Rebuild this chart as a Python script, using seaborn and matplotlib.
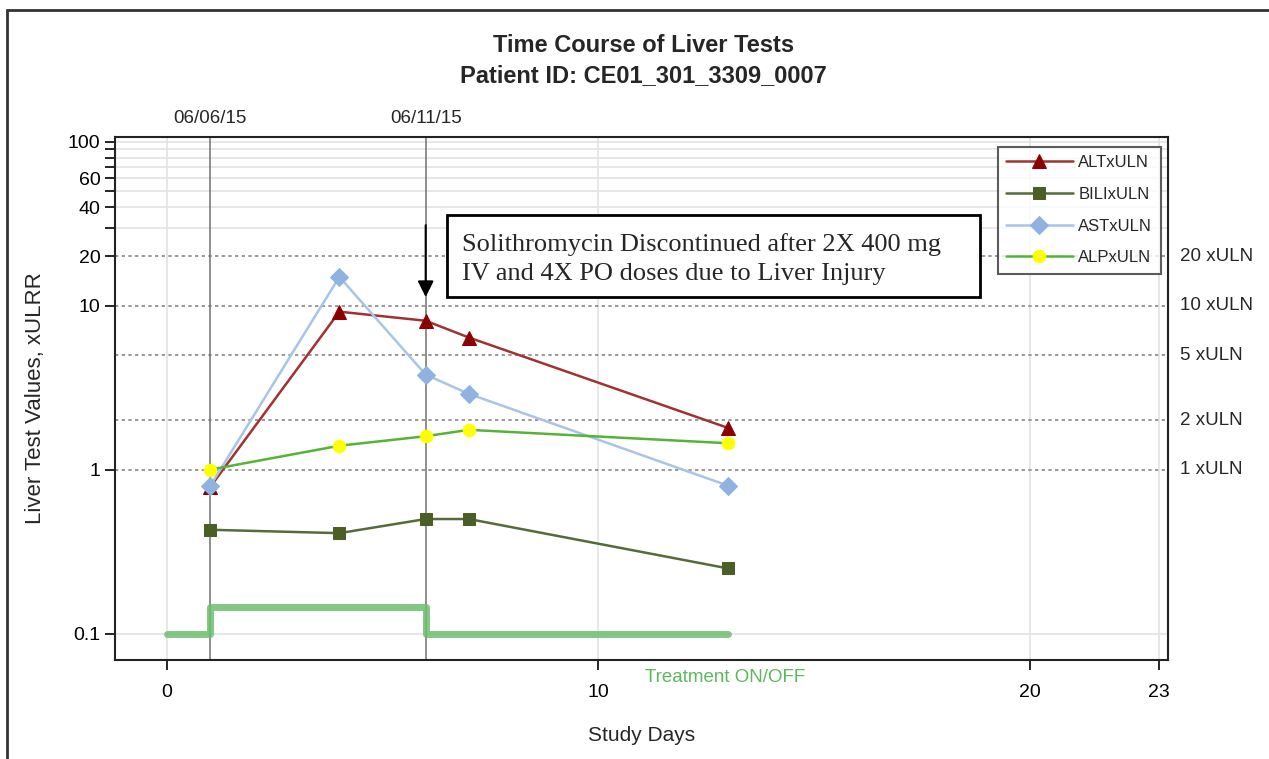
import matplotlib
matplotlib.use("Agg")
import matplotlib.pyplot as plt
import matplotlib.ticker as mticker
from matplotlib.patches import Rectangle
import pandas as pd
import seaborn as sns

# === DADOS ===
days = [1, 4, 6, 7, 13]
alt = [0.78, 9.2, 8.1, 6.4, 1.8]
bili = [0.43, 0.41, 0.50, 0.50, 0.25]
ast = [0.79, 15.0, 3.8, 2.9, 0.80]
alp = [1.0, 1.4, 1.6, 1.75, 1.45]

trt_days = [0, 1, 6, 13]
trt_vals = [0.1, 0.145, 0.1, 0.1]

ref_levels = [20, 10, 5, 2, 1]
ref_labels = ["20 xULN", "10 xULN", "5 xULN", "2 xULN", "1 xULN"]

date_days = [1, 6]
date_labels = ["06/06/15", "06/11/15"]

# === ESTILO ===
sns.set_style("white")
plt.rcParams["font.family"] = ["Liberation Sans", "DejaVu Sans"]
plt.rcParams["font.size"] = 13

fig = plt.figure(figsize=(12.69, 7.59), dpi=100)
ax = fig.add_axes([0.0906, 0.1304, 0.8298, 0.6891])

# grade
for v in [0.1, 30, 40, 50, 60, 70, 80, 90, 100]:
    ax.axhline(v, color="#e3e3e3", lw=1.2, zorder=0)
for v in [0, 10, 20, 23]:
    ax.axvline(v, color="#e3e3e3", lw=1.2, zorder=0)
for v in ref_levels:
    ax.axhline(v, color="#888888", lw=1.2, ls=(0, (2, 2)), zorder=1)
for d in date_days:
    ax.axvline(d, color="#707070", lw=1.1, zorder=1)

# tratamento
df_trt = pd.DataFrame({"dia": trt_days, "valor": trt_vals})
sns.lineplot(data=df_trt, x="dia", y="valor", drawstyle="steps-post",
             color="#6cbf6c", lw=5, alpha=0.85, ax=ax, zorder=2)

series = [
    ("ALTxULN", alt, "#a03232", "^", "#8b0000", 10),
    ("BILIxULN", bili, "#556b3a", "s", "#4a5e26", 9),
    ("ASTxULN", ast, "#a8c4e6", "D", "#8fb2e0", 9),
    ("ALPxULN", alp, "#55b435", "o", "#ffff00", 9),
]
handles = []
for nome, vals, cor, mk, mcor, ms in series:
    d = pd.DataFrame({"dia": days, "valor": vals})
    sns.lineplot(data=d, x="dia", y="valor", color=cor, lw=1.8, marker=mk,
                 markersize=ms, markerfacecolor=mcor, markeredgecolor=mcor,
                 ax=ax, zorder=4)
    handles.append(ax.lines[-1])

ax.set_yscale("log")
ax.set_xlim(-1.2, 23.2)
ax.set_ylim(0.069, 107)

yt = [0.1, 1, 10, 20, 30, 40, 50, 60, 70, 80, 90, 100]
ylab = ["0.1", "1", "10", "20", "", "40", "", "60", "", "", "", "100"]
ax.yaxis.set_major_locator(mticker.FixedLocator(yt))
ax.yaxis.set_major_formatter(mticker.FixedFormatter(ylab))
ax.yaxis.set_minor_locator(mticker.NullLocator())
ax.set_xticks([0, 10, 20, 23])
ax.set_xticklabels(["0", "10", "20", "23"])
ax.tick_params(axis="both", direction="out", length=7, width=1.2,
               labelsize=14, colors="black", bottom=True, left=True)
ax.tick_params(axis="x", pad=10)

for s in ax.spines.values():
    s.set_color("#222222")
    s.set_linewidth(1.5)

ax.set_xlabel("Study Days", fontsize=15, labelpad=18)
ax.set_ylabel("Liver Test Values, xULRR", fontsize=16, labelpad=16)

# rótulos à direita
for v, t in zip(ref_levels, ref_labels):
    ax.text(1.011, v, t, transform=ax.get_yaxis_transform(), ha="left",
            va="center", fontsize=13.5)

# datas no topo
for d, t in zip(date_days, date_labels):
    ax.text(d, 1.036, t, transform=ax.get_xaxis_transform(), ha="center",
            va="center", fontsize=13.5)

ax.text(12.94, -0.034, "Treatment ON/OFF", transform=ax.get_xaxis_transform(),
        ha="center", va="center", fontsize=13.5, color="#5cb85c")

# anotação
ax.annotate("", xy=(6, 11.3), xytext=(6, 31),
            arrowprops=dict(arrowstyle="-|>", color="black", lw=1.5,
                            mutation_scale=24, shrinkA=0, shrinkB=0), zorder=5)
ax.add_patch(Rectangle((0.3153, 0.6941), 0.5062, 0.1568, transform=ax.transAxes,
                       fc="white", ec="black", lw=2, zorder=6))
ax.text(0.3295, 0.7667,
        "Solithromycin Discontinued after 2X 400 mg\nIV and 4X PO doses due to Liver Injury",
        transform=ax.transAxes, ha="left", va="center", fontsize=19,
        family="Liberation Serif", linespacing=1.45, zorder=7)

leg = ax.legend(handles, [s[0] for s in series], loc="upper right",
                bbox_to_anchor=(0.993, 0.981), fontsize=12, handlelength=4.0,
                handletextpad=0.35, labelspacing=1.0, frameon=True,
                fancybox=False, borderpad=0.5, borderaxespad=0.0)
leg.get_frame().set_edgecolor("#333333")
leg.get_frame().set_linewidth(1.5)
leg.set_zorder(8)

fig.text(0.507, 0.92, "Time Course of Liver Tests\nPatient ID: CE01_301_3309_0007",
         ha="center", va="center", fontsize=17, fontweight="bold",
         linespacing=1.4)

fig.add_artist(Rectangle((0.0055, -0.05), 1.1, 1.0368, transform=fig.transFigure,
                         fill=False, ec="#333333", lw=2))

fig.savefig("out.png", dpi=100)
